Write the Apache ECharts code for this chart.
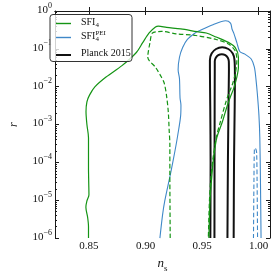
<!DOCTYPE html>
<html>
<head>
<meta charset="utf-8">
<script src="https://cdn.jsdelivr.net/npm/echarts@6/dist/echarts.min.js"></script>
<style>
html,body{margin:0;padding:0;background:#fff;}
#chart{width:276px;height:278px;}
</style>
</head>
<body>
<div id="chart"></div>
<script>
// ---- data (n_s, r) ----
const xTicks = [0.85, 0.90, 0.95, 1.00];
const yDecades = [1e-6, 1e-5, 1e-4, 1e-3, 1e-2, 1e-1, 1];

const sfi4Outer = [
  [0.8496,1e-6],[0.8496,2.0e-6],[0.8488,3.6e-6],[0.8473,6.5e-6],[0.8482,9.6e-6],[0.8500,1.4e-5],
  [0.8498,3e-5],[0.8496,7.2e-5],[0.8496,4.5e-4],[0.8482,1.0e-3],[0.8474,2.2e-3],[0.8482,4.0e-3],
  [0.8505,6.0e-3],[0.8552,9.9e-3],[0.8651,1.8e-2],[0.8792,3.6e-2],[0.8919,8.0e-2],[0.8975,0.146],
  [0.9032,0.264],[0.9088,0.38],[0.9114,0.40],[0.9186,0.37],[0.9311,0.336],[0.9455,0.285],
  [0.9537,0.262],[0.9624,0.205],[0.9736,0.146],[0.9793,0.108],[0.9821,0.06],[0.9821,0.033],
  [0.9807,0.018],[0.9779,0.009],[0.9751,0.0055],[0.9720,0.0030],[0.9680,0.0012],[0.9630,4.5e-4],
  [0.9600,1.2e-4],[0.9585,4e-5],[0.9570,1e-5],[0.9560,1e-6]
];
const sfi4Inner = [
  [0.9218,1e-6],[0.9216,1e-5],[0.9215,5e-5],[0.9215,3e-4],[0.9209,7e-4],[0.9201,2.2e-3],
  [0.9185,6e-3],[0.9165,0.0125],[0.9140,0.018],[0.9090,0.032],[0.9020,0.06],[0.9040,0.15],
  [0.9060,0.26],[0.9114,0.285],[0.9140,0.29],[0.9271,0.25],[0.9445,0.225],[0.9624,0.177],
  [0.9736,0.132],[0.9793,0.088],[0.9807,0.049],[0.9793,0.022],[0.9765,0.0109],[0.9736,0.0067],
  [0.9705,0.0035],[0.9665,0.0013],[0.9625,4.5e-4],[0.9595,1.2e-4],[0.9578,4e-5],[0.9565,1e-5],
  [0.9555,1e-6]
];
const peiOuter = [
  [0.9127,1e-6],[0.9150,4e-6],[0.9170,9.6e-6],[0.9226,6e-5],[0.9260,2e-4],[0.9285,5.3e-4],
  [0.9311,1.8e-3],[0.9313,3.3e-3],[0.9305,5e-3],[0.9300,0.0163],[0.9288,0.028],[0.9300,0.06],
  [0.9328,0.108],[0.9370,0.177],[0.9440,0.264],[0.9466,0.291],[0.9596,0.434],[0.9708,0.551],
  [0.9751,0.48],[0.9765,0.33],[0.9779,0.264],[0.9807,0.146],[0.9833,0.085],[0.9878,0.0724],
  [0.9934,0.0538],[0.9962,0.0328],[0.9977,0.0147],[0.9988,0.0066],[1.0002,0.0018],[1.0010,4.5e-4],
  [1.0016,2.6e-5],[1.0021,1e-6]
];
const peiInner = [
  [0.9954,1e-6],[0.9958,3e-5],[0.9962,2.2e-4],[0.9968,2.4e-4],[0.9976,2.2e-4],[0.9982,1.8e-4],
  [0.9986,3e-5],[0.9990,1e-6]
];
const planckOuter = [
  [0.9573,1e-6],[0.9575,1e-4],[0.9572,3e-3],[0.9569,0.03],[0.9569,0.051],[0.9584,0.075],
  [0.9623,0.099],[0.96775,0.110],[0.9732,0.099],[0.9771,0.075],[0.9786,0.051],[0.9790,0.02],
  [0.9788,3e-3],[0.9782,1e-4],[0.9779,1e-6]
];
const planckInner = [
  [0.9609,1e-6],[0.9610,1e-4],[0.9611,5e-3],[0.9612,0.03],[0.9612,0.0469],[0.9621,0.0583],
  [0.9643,0.0683],[0.9674,0.0724],[0.9705,0.0683],[0.9727,0.0583],[0.9736,0.0469],[0.9737,0.03],
  [0.9734,5e-3],[0.9728,1e-4],[0.9724,1e-6]
];

// minor log tick positions (log10 units) for the decoration axes
const minorLog = [];
for (let n = -6; n < 0; n++) { for (let k = 2; k <= 9; k++) minorLog.push(n + Math.log10(k)); }

const GREEN = '#149414';
const BLUE = '#3f88c8';
const FONT = 'Liberation Serif';
const AX = '#1a1a1a';

const chart = echarts.init(document.getElementById('chart'), null, {renderer: 'canvas'});

function baseY(pos, show) {
  return {
    type: 'log', logBase: 10, min: 1e-6, max: 1, interval: 1, position: pos,
    axisLine: {show: true, lineStyle: {color: AX, width: 1}},
    axisTick: {show: true, inside: true, length: 4, lineStyle: {color: AX}},
    splitLine: {show: false},
    axisLabel: show ? {
      show: true, margin: 3,
      formatter: function (v) {
        const e = Math.round(Math.log10(v));
        return '{b|10}{s|' + (e < 0 ? '\u2212' + (-e) : e) + '}';
      },
      rich: {
        b: {fontFamily: FONT, fontSize: 11, lineHeight: 11, color: '#111', padding: [0, 0, 1, 0], verticalAlign: 'bottom'},
        s: {fontFamily: FONT, fontSize: 8, lineHeight: 8, color: '#111', padding: [0, 0, 7, 0], verticalAlign: 'bottom'}
      }
    } : {show: false}
  };
}
function minorY(pos) {
  return {
    type: 'value', min: -6, max: 0, position: pos,
    axisLine: {show: false}, splitLine: {show: false}, axisLabel: {show: false},
    axisTick: {show: true, inside: true, length: 2, customValues: minorLog, lineStyle: {color: AX}}
  };
}

const yMain = baseY('left', true);
yMain.name = 'r';
yMain.nameLocation = 'middle';
yMain.nameRotate = 90;
yMain.nameGap = 35;
yMain.nameTextStyle = {fontFamily: FONT, fontStyle: 'italic', fontSize: 12, color: '#111'};

function line(name, data, color, width, dashed, z) {
  return {
    type: 'line', name: name, data: data, xAxisIndex: 0, yAxisIndex: 0,
    symbol: 'none', smooth: 0.3, z: z || 2, clip: true,
    lineStyle: {color: color, width: width, type: dashed ? [4.5, 2.5] : 'solid'},
    itemStyle: {color: color}
  };
}

const rich = {
  g: {width: 5, fontSize: 10, lineHeight: 11},
  a: {fontFamily: FONT, fontSize: 10, lineHeight: 11, color: '#111', padding: [0, 0, 2, 0], verticalAlign: 'bottom'},
  sub: {fontFamily: FONT, fontSize: 7, lineHeight: 8, color: '#111', verticalAlign: 'bottom'},
  subz: {fontFamily: FONT, fontSize: 7, lineHeight: 8, color: '#111', verticalAlign: 'bottom', width: 0},
  sup: {fontFamily: FONT, fontSize: 7, lineHeight: 8, color: '#111', padding: [0, 0, 6, 0], verticalAlign: 'bottom'}
};
const legendText = {
  'SFI4': '{g| }{a|SFI}{sub|4}',
  'SFI4PEI': '{g| }{a|SFI}{subz|4}{sup|PEI}',
  'Planck 2015': '{g| }{a|Planck 2015}'
};
function legendAt(name, top, h) {
  return {
    data: [name], left: 56, top: top, orient: 'vertical', padding: 0,
    icon: 'rect', itemWidth: 15, itemHeight: h, selectedMode: false, z: 10,
    formatter: function (n) { return legendText[n]; },
    textStyle: {fontFamily: FONT, fontSize: 10, color: '#111', rich: rich}
  };
}

const option = {
  animation: false,
  backgroundColor: '#fff',
  grid: {left: 47, right: 6, top: 11, bottom: 35.5, containLabel: false},
  xAxis: [
    {
      type: 'value', min: 0.82, max: 1.01, position: 'bottom',
      name: '{n|n}{s|s}', nameLocation: 'middle', nameGap: 10,
      nameTextStyle: {rich: {
        n: {fontFamily: FONT, fontStyle: 'italic', fontSize: 13, lineHeight: 13, color: '#111', padding: [0, 0, 3, 0], verticalAlign: 'bottom'},
        s: {fontFamily: FONT, fontSize: 9, lineHeight: 9, color: '#111', verticalAlign: 'bottom'}
      }},
      axisLine: {show: true, lineStyle: {color: AX, width: 1}},
      axisTick: {show: true, inside: true, length: 4, customValues: xTicks, lineStyle: {color: AX}},
      splitLine: {show: false},
      axisLabel: {show: true, margin: 3, customValues: xTicks, fontFamily: FONT, fontSize: 11, color: '#111',
        formatter: function (v) { return v.toFixed(2); }}
    },
    {
      type: 'value', min: 0.82, max: 1.01, position: 'top',
      axisLine: {show: true, lineStyle: {color: AX, width: 1}},
      axisTick: {show: true, inside: true, length: 4, customValues: xTicks, lineStyle: {color: AX}},
      splitLine: {show: false}, axisLabel: {show: false}
    }
  ],
  yAxis: [yMain, baseY('right', false), minorY('left'), minorY('right')],
  legend: [legendAt('SFI4', 17, 1.4), legendAt('SFI4PEI', 30, 1.4), legendAt('Planck 2015', 48.5, 2)],
  graphic: [{
    type: 'rect', z: 8, silent: true,
    shape: {x: 50, y: 14.5, width: 82, height: 47, r: 3},
    style: {fill: 'rgba(255,255,255,0.8)', stroke: '#333', lineWidth: 1}
  }],
  series: [
    line('SFI4', sfi4Outer, GREEN, 1.2, false, 3),
    line('SFI4 inner', sfi4Inner, GREEN, 1.2, true, 3),
    line('SFI4PEI', peiOuter, BLUE, 1.1, false, 2),
    line('SFI4PEI inner', peiInner, BLUE, 1.1, true, 2),
    line('Planck 2015', planckOuter, '#111', 2, false, 2),
    line('Planck inner', planckInner, '#111', 2, false, 2)
  ]
};
chart.setOption(option);
</script>
</body>
</html>
